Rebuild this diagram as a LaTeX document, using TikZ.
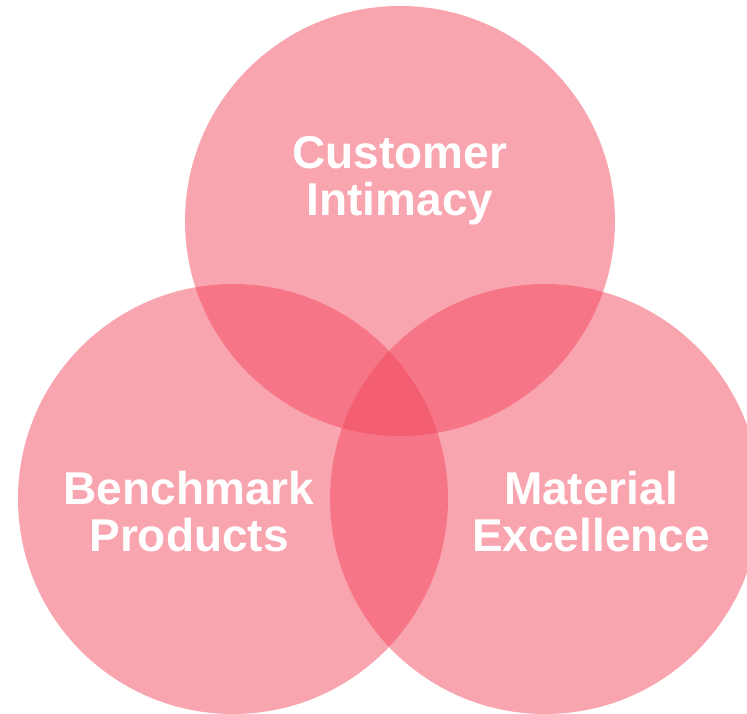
\documentclass[tikz,border=0pt]{standalone}
\usepackage{fontspec}
\setmainfont{Liberation Sans}
\usepackage{tikz}

\begin{document}
\begin{tikzpicture}[x=1pt, y=-1pt,
        venn/.style={fill=vennpink, fill opacity=0.48},
        lbl/.style={text=white, font=\bfseries\fontsize{46}{46.5}\selectfont, align=center, anchor=base}]
        \definecolor{vennpink}{RGB}{242,67,90}

        \useasboundingbox (0,0) rectangle (747,714);

        % Centres of the circles
        \coordinate (ctop) at (400,221);
        \coordinate (cleft) at (233,499);
        \coordinate (cright) at (545,499);

        % Draw the three circles
        \fill[venn] (ctop) circle (215pt);
        \fill[venn] (cleft) circle (215pt);
        \fill[venn] (cright) circle (215pt);

        % Labels for each circle
        \node[lbl] (cust) at (400,215) {Customer\\Intimacy};
        \node[lbl] (bench) at (189,551) {Benchmark\\Products};
        \node[lbl] (mat) at (591,551) {Material\\Excellence};
    \end{tikzpicture}
\end{document}
